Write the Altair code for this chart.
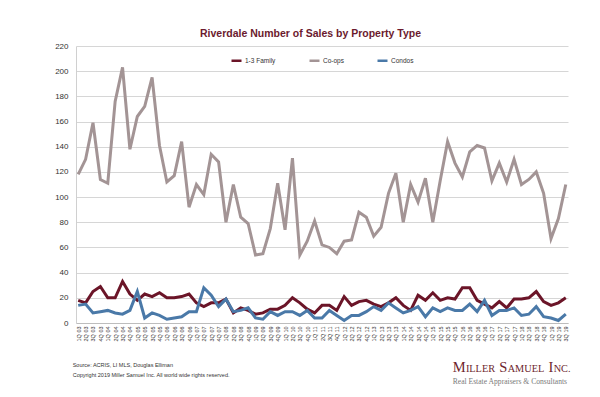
import altair as alt
import pandas as pd

# ---- data ----
quarters = [f"{q}Q {y:02d}" for y in range(3, 20) for q in range(1, 5)][:67]

family = [18, 16, 25, 29, 20, 20, 33, 23, 18, 23, 21, 24, 20, 20, 21, 23,
          16, 13, 16, 16, 19, 8, 12, 10, 7, 8, 11, 11, 14, 20, 16, 11,
          8, 14, 14, 10, 21, 14, 17, 18, 15, 13, 16, 20, 14, 10, 22, 18,
          24, 18, 20, 19, 28, 28, 18, 15, 12, 17, 12, 19, 19, 20, 25, 17,
          14, 16, 20]
coops = [118, 130, 159, 114, 111, 176, 203, 138, 164, 172, 195, 141, 112, 117, 144, 92,
         110, 102, 134, 128, 80, 110, 84, 79, 54, 55, 75, 111, 74, 131, 54, 65,
         81, 62, 60, 55, 65, 66, 88, 84, 69, 76, 103, 119, 80, 110, 96, 115,
         80, 113, 144, 127, 116, 136, 141, 139, 113, 127, 112, 130, 110, 114, 120, 103,
         67, 83, 110]
condos = [14, 15, 8, 9, 10, 8, 7, 10, 25, 4, 8, 6, 3, 4, 5, 9,
          9, 28, 22, 13, 19, 9, 10, 12, 4, 3, 9, 6, 9, 9, 6, 10,
          4, 4, 10, 6, 2, 6, 6, 9, 13, 10, 16, 12, 8, 10, 13, 5,
          12, 9, 12, 10, 10, 15, 9, 18, 6, 10, 10, 12, 6, 7, 13, 5,
          4, 2, 7]

types = ["1-3 Family", "Co-ops", "Condos"]
colors = ["#6b1528", "#a39495", "#4a79a8"]
y_ticks = list(range(0, 221, 20))

title_text = "Riverdale Number of Sales by Property Type"
source_text = "Source: ACRIS, LI MLS, Douglas Elliman"
copyright_text = "Copyright 2019 Miller Samuel Inc.  All world wide rights reserved."
tagline_text = "Real Estate Appraisers & Consultants"

df = pd.DataFrame({
    "Quarter": quarters * 3,
    "Type": [types[0]] * 67 + [types[1]] * 67 + [types[2]] * 67,
    "Sales": family + coops + condos,
})

SANS = "Liberation Sans, Arial, sans-serif"
SERIF = "Liberation Serif, Times New Roman, serif"

lines = alt.Chart(df).mark_line(strokeWidth=3).encode(
    x=alt.X("Quarter:N", sort=quarters,
            scale=alt.Scale(type="point", padding=0.3),
            axis=alt.Axis(title=None, labelAngle=270, labelFontSize=5.5, labelPadding=3,
                          ticks=False, grid=False, labelOverlap=False,
                          domainColor="#bdbdbd", labelColor="#333333", labelFont=SANS)),
    y=alt.Y("Sales:Q", scale=alt.Scale(domain=[0, 220], nice=False),
            axis=alt.Axis(title=None, values=y_ticks, ticks=False, labelPadding=8,
                          labelFontSize=8, labelColor="#333333", labelFont=SANS,
                          gridColor="#d6d6d6", domainColor="#d0d0d0")),
    color=alt.Color("Type:N", scale=alt.Scale(domain=types, range=colors),
                    legend=alt.Legend(title=None, orient="none", legendX=154, legendY=8,
                                      direction="horizontal", symbolType="stroke",
                                      symbolSize=100, symbolStrokeWidth=2.5,
                                      labelFontSize=6.5, labelOffset=2, columnPadding=28,
                                      labelFont=SANS, labelColor="#333333")),
)


def text_layer(txt, x, y, size, color, font, weight="normal", align="left"):
    return alt.Chart(pd.DataFrame({"t": [txt]})).mark_text(
        fontSize=size, color=color, font=font, fontWeight=weight, align=align,
        baseline="alphabetic"
    ).encode(text="t:N", x=alt.value(x), y=alt.value(y))


layers = [lines,
          text_layer(title_text, 234.5, -9, 10.5, "#6b1a2e", SANS, "bold", "center"),
          text_layer(source_text, -3.3, 321, 5.5, "#333333", SANS),
          text_layer(copyright_text, -3.3, 330.5, 5.5, "#333333", SANS)]

# small-caps company name built from pieces (Times metrics, per 1000 em)
tw = {"M": 889, "I": 333, "L": 611, "E": 611, "R": 667, "S": 556, "A": 722,
      "U": 722, "N": 722, "C": 667, ".": 250, " ": 250}
big, small = 14.5, 10.3
pieces = [("M", big), ("ILLER", small), (" ", big), ("S", big), ("AMUEL", small),
          (" ", big), ("I", big), ("NC.", small)]
cx = 376.7
for s, fs in pieces:
    if s.strip():
        layers.append(text_layer(s, cx, 326, fs, "#6e1f2d", SERIF))
    cx += sum(tw[c] for c in s) * fs / 1000.0 + 0.3

layers.append(text_layer(tagline_text, 376.7, 338, 7.6, "#7a7a7a", SERIF))

chart = alt.layer(*layers).properties(
    width=492, height=277,
    autosize=alt.AutoSizeParams(type="none"),
    padding={"left": 68, "top": 38, "right": 24, "bottom": 66},
    background="white",
).configure_view(stroke=None)

chart.save("out.html", embed_options={"renderer": "svg", "actions": False})
